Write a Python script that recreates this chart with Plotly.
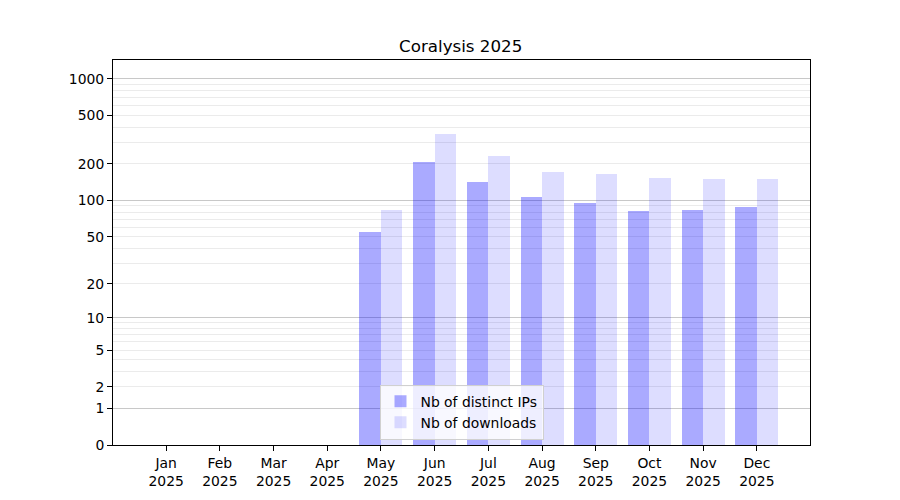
import numpy as np
import plotly.graph_objects as go

# monthly stats
months = ['Jan', 'Feb', 'Mar', 'Apr', 'May', 'Jun', 'Jul', 'Aug', 'Sep', 'Oct', 'Nov', 'Dec']
year = '2025'
distinct_ips = [0, 0, 0, 0, 55, 209, 143, 106, 96, 82, 84, 89]
downloads = [0, 0, 0, 0, 84, 355, 234, 173, 166, 154, 151, 151]

tick_values = [0, 1, 2, 5, 10, 20, 50, 100, 200, 500, 1000]
major_grid = [1, 10, 100, 1000]
minor_grid = [m * 10 ** e for e in range(0, 3) for m in range(2, 10)]


# y axis is log10(1 + n), like a matplotlib function scale
def fwd(v):
    return np.log10(1 + np.asarray(v, dtype=float))


x = np.arange(len(months))
labels = [f'{m}<br>{year}' for m in months]

fig = go.Figure()
fig.add_trace(go.Bar(
    x=x - 0.2, y=fwd(distinct_ips), width=0.4,
    name='Nb of distinct IPs',
    marker=dict(color='rgba(0,0,255,0.333)', line=dict(width=0)),
))
fig.add_trace(go.Bar(
    x=x + 0.2, y=fwd(downloads), width=0.4,
    name='Nb of downloads',
    marker=dict(color='rgba(0,0,255,0.133)', line=dict(width=0)),
))

yrange = [0, 3.155]

# the page adds an 8px body margin, so margins are shifted to compensate
fig.update_layout(
    width=900, height=500,
    margin=dict(l=105, r=98, t=52, b=63),
    paper_bgcolor='white', plot_bgcolor='white',
    font=dict(family='DejaVu Sans', size=13.9, color='black'),
    title=dict(text='Coralysis 2025', x=0.503, xanchor='center', y=0.924, yanchor='middle',
               font=dict(size=16.7)),
    showlegend=True,
    legend=dict(x=0.5, xanchor='center', y=0.014, yanchor='bottom',
                bgcolor='rgba(255,255,255,0.8)', bordercolor='#d0d0d0', borderwidth=1,
                font=dict(size=13.9), tracegroupgap=0),
    bargap=0,
    xaxis=dict(
        range=[-0.99, 11.99], tickvals=x, ticktext=labels,
        ticks='outside', ticklen=5, tickcolor='black',
        showgrid=False, zeroline=False,
        showline=True, linecolor='black', linewidth=1, mirror=True,
    ),
    yaxis=dict(
        range=yrange, tickvals=fwd(tick_values), ticktext=[str(t) for t in tick_values],
        ticks='outside', ticklen=5, tickcolor='black',
        showgrid=False, zeroline=False,
        showline=True, linecolor='black', linewidth=1, mirror=True,
        minor=dict(tickvals=fwd(minor_grid), showgrid=True, gridcolor='#ebebeb',
                   gridwidth=1, ticks=''),
    ),
    yaxis2=dict(
        range=yrange, overlaying='y', side='left',
        tickvals=fwd(major_grid), showticklabels=False, ticks='',
        showgrid=True, gridcolor='#c8c8c8', gridwidth=1, zeroline=False,
    ),
)

# invisible helper trace so the second y axis (major grid) is drawn
fig.add_trace(go.Scatter(x=[0], y=[0], yaxis='y2', mode='markers',
                         marker=dict(opacity=0), showlegend=False, hoverinfo='skip'))

fig.write_html('out.html')
